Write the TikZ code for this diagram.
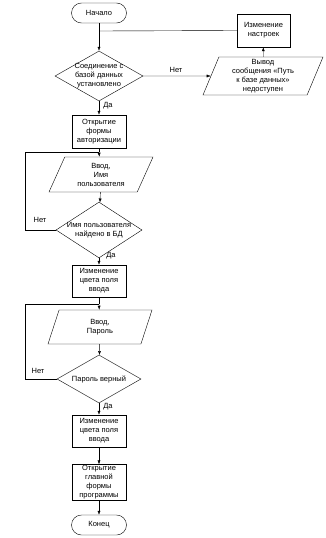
\documentclass[tikz,border=0pt]{standalone}
\usepackage{fontspec}
\setmainfont{Liberation Sans}
\usetikzlibrary{shapes.geometric,arrows.meta}
\begin{document}
\begin{tikzpicture}[x=1pt, y=-1pt, line width=0.4pt,
  >={Latex[length=4pt,width=3pt]},
  every node/.style={font=\fontsize{7.5}{9}\selectfont, align=center},
  term/.style={draw, rounded corners=10pt, minimum width=55pt, minimum height=20pt},
  proc/.style={draw, minimum width=54pt, minimum height=33pt, inner sep=1pt},
  cond/.style={draw, shape=diamond, inner sep=-6pt, minimum width=88pt, minimum height=50pt},
  io/.style={draw, shape=trapezium, trapezium stretches body, trapezium left angle=58,
    trapezium right angle=122, minimum width=104pt, minimum height=35pt, inner sep=1pt}]
\useasboundingbox (0,0) rectangle (325,538);
\node[term] (start) at (99,13) {Начало};
\node[cond] (dbok) at (99,76) {Соединение с\\базой данных\\установлено};
\node[proc] (auth) at (99,131.5) {Открытие\\формы\\авторизации};
\node[io] (login) at (101,174.5) {Ввод,\\Имя\\пользователя};
\node[cond, minimum width=86pt, minimum height=52pt] (found) at (99,230) {Имя пользователя\\найдено в БД};
\node[proc, minimum height=32pt] (color1) at (99,281) {Изменение\\цвета поля\\ввода};
\node[io, minimum height=34pt] (pass) at (100,327) {Ввод,\\Пароль};
\node[cond, minimum width=84pt, minimum height=48pt] (passok) at (99,379) {Пароль верный};
\node[proc, minimum height=32pt] (color2) at (99,431) {Изменение\\цвета поля\\ввода};
\node[proc, minimum height=35pt] (mainform) at (99,482.5) {Открытие\\главной\\формы\\программы};
\node[term] (stop) at (99,525) {Конец};
\node[io, trapezium left angle=66, trapezium right angle=114, minimum width=120pt, minimum height=38pt]
  (msg) at (263,76) {Вывод\\сообщения «Путь\\к базе данных»\\недоступен};
\node[proc, minimum width=53pt] (settings) at (263.5,30.5) {Изменение\\настроек};
\coordinate (j0) at (99,31);
\coordinate (j1) at (99,152);
\coordinate (j2) at (99,304);
\draw (start) -- (j0);
\draw[->] (j0) -- (dbok);
\draw[->] (dbok) -- (auth);
\draw (auth) -- (j1);
\draw[->] (j1) -- (login);
\draw[->] (login) -- (found);
\draw[->] (found) -- (color1);
\draw (color1) -- (j2);
\draw[->] (j2) -- (pass);
\draw[->] (pass) -- (passok);
\draw[->] (passok) -- (color2);
\draw[->] (color2) -- (mainform);
\draw[->] (mainform) -- (stop);
\draw[->] (dbok.east) -- (msg.west);
\draw[->] (msg) -- (settings);
\draw (settings.west) -- (j0);
\draw (found.west) -- (25,230) |- (j1);
\draw (passok.west) -- (25,379) |- (j2);
\node at (176,70) {Нет};
\node at (108,106) {Да};
\node at (40,220) {Нет};
\node at (111,256) {Да};
\node at (38,371) {Нет};
\node at (108,407) {Да};
\end{tikzpicture}
\end{document}
